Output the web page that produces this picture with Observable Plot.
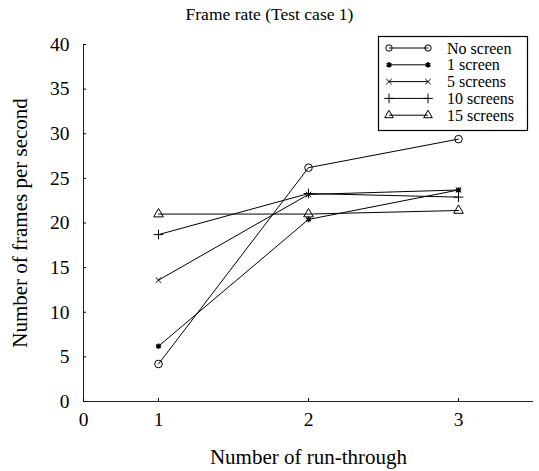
<!DOCTYPE html>
<html><head><meta charset="utf-8">
<script src="https://cdn.jsdelivr.net/npm/d3@7"></script>
<script src="https://cdn.jsdelivr.net/npm/@observablehq/plot@0.6"></script>
<style>
body{margin:0;background:#fff;font-family:"Liberation Serif","Times New Roman",serif;}
#title{width:539px;height:28px;text-align:center;font-size:17.5px;line-height:28px;color:#000;}
#chart{position:relative;width:539px;}
</style></head><body>
<div id="title">Frame rate (Test case 1)</div>
<div id="chart"></div>
<script>
const runs = [1, 2, 3];
const seriesNames = ["No screen", "1 screen", "5 screens", "10 screens", "15 screens"];
const noScreen = [4.2, 26.2, 29.4];
const oneScreen = [6.2, 20.4, 23.7];
const fiveScreens = [13.6, 23.2, 23.7];
const tenScreens = [18.7, 23.3, 22.9];
const fifteenScreens = [21.0, 21.0, 21.4];
const symbolNames = ["circle", "asterisk", "times", "plus", "triangle"];
const xTicks = [0.5, 1, 2, 3];
const xTickLabels = ["0", "1", "2", "3"];
const yTicks = [0, 5, 10, 15, 20, 25, 30, 35, 40];
const xLabel = "Number of run-through";
const yLabel = "Number of frames per second";

const seriesValues = [noScreen, oneScreen, fiveScreens, tenScreens, fifteenScreens];
const data = [];
seriesNames.forEach((s, i) => runs.forEach((r, j) => data.push({series: s, run: r, fps: seriesValues[i][j]})));
const markerSize = {"circle": 3.8, "triangle": 3.6, "asterisk": 2.6, "times": 2.6, "plus": 3.2};
const markerWidth = {"circle": 1, "triangle": 1, "asterisk": 1.6, "times": 1, "plus": 1};

const font = "Liberation Serif, Times New Roman, serif";
const plot = Plot.plot({
  width: 539,
  height: 443,
  marginLeft: 83,
  marginRight: 6,
  marginTop: 16,
  marginBottom: 70,
  style: {fontFamily: font, color: "#000", background: "#fff"},
  x: {domain: [0.5, 3.5]},
  y: {domain: [0, 40]},
  symbol: {domain: seriesNames, range: symbolNames},
  marks: [
    Plot.ruleY([0], {stroke: "#222", strokeWidth: 1}),
    Plot.ruleX([0.5], {y1: 0, y2: 40, stroke: "#222", strokeWidth: 1}),
    Plot.axisY({ticks: yTicks, tickSize: -3, tickPadding: 17, fontSize: 19.5, label: null}),
    Plot.axisX({ticks: xTicks, tickFormat: (d) => xTickLabels[xTicks.indexOf(d)], tickSize: -3, tickPadding: 14, fontSize: 19.5, label: null}),
    Plot.text([yLabel], {frameAnchor: "left", rotate: -90, dx: -63, textAnchor: "middle", fontSize: 21, text: d => d}),
    Plot.text([xLabel], {frameAnchor: "bottom", dy: 56, lineAnchor: "middle", textAnchor: "middle", fontSize: 21, text: d => d}),
    Plot.line(data, {x: "run", y: "fps", z: "series", stroke: "#000", strokeWidth: 1}),
    ...seriesNames.map((s, i) => Plot.dot(data.filter(d => d.series === s), {
      x: "run", y: "fps", symbol: "series", stroke: "#000", fill: "none",
      r: markerSize[symbolNames[i]], strokeWidth: markerWidth[symbolNames[i]]
    }))
  ]
});
document.getElementById("chart").appendChild(plot);

// legend
const svg = d3.select(plot);
const lg = svg.append("g").style("font-family", font).style("font-size", "16px").attr("text-anchor", "start");
lg.append("rect").attr("x", 378.5).attr("y", 8.5).attr("width", 149).attr("height", 94)
  .attr("fill", "#fff").attr("stroke", "#000").attr("stroke-width", 1.2);
const symScale = plot.scale("symbol");
seriesNames.forEach((s, i) => {
  const y = 20 + i * 16.8;
  const name = symbolNames[i];
  lg.append("line").attr("x1", 389).attr("x2", 428).attr("y1", y).attr("y2", y).attr("stroke", "#000").attr("stroke-width", 1);
  const sz = name === "circle" || name === "triangle" ? 3.2 : markerSize[name];
  const sym = d3.symbol(symScale.apply(s), Math.PI * sz * sz);
  [389, 428].forEach(x => lg.append("path").attr("d", sym()).attr("transform", `translate(${x},${y})`)
    .attr("fill", "none").attr("stroke", "#000").attr("stroke-width", markerWidth[name]));
  lg.append("text").attr("x", 447).attr("y", y).attr("dy", "0.35em").style("text-anchor", "start").text(s);
});
</script>
</body></html>
